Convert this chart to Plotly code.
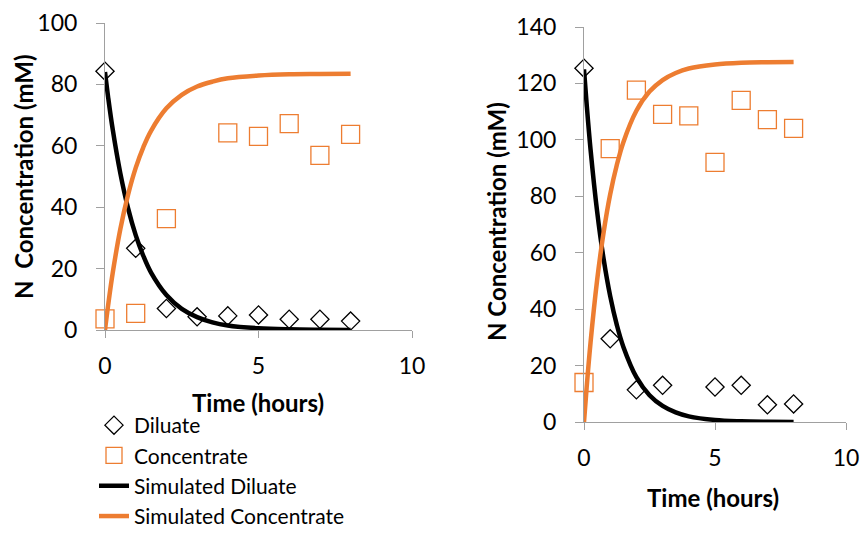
import plotly.graph_objects as go

# ---- Measured data: left run ----
t_meas = [0, 1, 2, 3, 4, 5, 6, 7, 8]
dil_left = [84.3, 26.6, 7.0, 4.3, 4.6, 4.9, 3.5, 3.5, 2.9]
t_conc_left = [0, 1, 2, 4, 5, 6, 7, 8]
conc_left = [3.6, 5.4, 36.3, 64.2, 63.1, 67.2, 56.9, 63.7]

# ---- Measured data: right run ----
t_dil_right = [0, 1, 2, 3, 5, 6, 7, 8]
dil_right = [125.4, 29.5, 11.4, 13.0, 12.4, 13.0, 6.1, 6.4]
conc_right = [14.0, 96.9, 117.6, 109.0, 108.5, 92.0, 114.0, 107.2, 104.1]

# ---- Simulated curves ----
t_sim = [0, 0.1, 0.25, 0.5, 0.75, 1, 1.25, 1.5, 2, 2.5, 3, 3.5, 4, 5, 6, 7, 8]
sim_dil_left = [84.0, 76.0, 65.4, 51.0, 39.7, 30.9, 24.1, 18.7, 11.4, 6.9, 4.2,
                2.5, 1.5, 0.57, 0.21, 0.08, 0.03]
sim_conc_left = [0.0, 7.9, 18.5, 32.9, 44.0, 52.8, 59.6, 64.9, 72.2, 76.6, 79.3,
                 80.9, 82.0, 82.9, 83.3, 83.4, 83.5]
sim_dil_right = [125.0, 112.8, 96.6, 74.7, 57.7, 44.6, 34.5, 26.7, 15.9, 9.5, 5.7,
                 3.4, 2.0, 0.72, 0.26, 0.09, 0.03]
sim_conc_right = [0.0, 12.1, 28.2, 50.2, 67.3, 80.7, 91.0, 99.1, 110.3, 117.1, 121.2,
                  123.7, 125.3, 126.7, 127.3, 127.5, 127.6]

ORANGE = "#ED7D31"
AXIS_GRAY = "#A0A0A0"
FONT = "Lato"
TICK_SIZE = 23
TITLE_SIZE = 24

fig = go.Figure()

def add_run(xa, ya, tdil, dil, tconc, conc, sdil, sconc, show):
    fig.add_trace(go.Scatter(
        x=tdil, y=dil, mode="markers", name="Diluate", xaxis=xa, yaxis=ya,
        marker=dict(symbol="diamond-open", size=14, color="black",
                    line=dict(width=1.3, color="black")),
        cliponaxis=False, showlegend=show, legendrank=1))
    fig.add_trace(go.Scatter(
        x=tconc, y=conc, mode="markers", name="Concentrate", xaxis=xa, yaxis=ya,
        marker=dict(symbol="square-open", size=18, color=ORANGE,
                    line=dict(width=1.3, color=ORANGE)),
        cliponaxis=False, showlegend=show, legendrank=2))
    fig.add_trace(go.Scatter(
        x=t_sim, y=sdil, mode="lines", name="Simulated Diluate", xaxis=xa, yaxis=ya,
        line=dict(color="black", width=4.5, shape="spline"),
        cliponaxis=False, showlegend=show, legendrank=3))
    fig.add_trace(go.Scatter(
        x=t_sim, y=sconc, mode="lines", name="Simulated Concentrate", xaxis=xa, yaxis=ya,
        line=dict(color=ORANGE, width=4.5, shape="spline"),
        cliponaxis=False, showlegend=show, legendrank=4))

add_run("x", "y", t_meas, dil_left, t_conc_left, conc_left,
        sim_dil_left, sim_conc_left, True)
add_run("x2", "y2", t_dil_right, dil_right, t_meas, conc_right,
        sim_dil_right, sim_conc_right, False)

W, H = 862, 533

def xaxis(domain, anchor):
    return dict(domain=domain, anchor=anchor, range=[0, 10], tickvals=[0, 5, 10],
                automargin=False,
                showgrid=False, zeroline=False, showline=True, linecolor=AXIS_GRAY,
                linewidth=1, ticks="outside", ticklen=7, tickcolor=AXIS_GRAY,
                ticklabelstandoff=8,
                tickfont=dict(family=FONT, size=TICK_SIZE, color="black"))

def yaxis(domain, anchor, rmax, step):
    return dict(domain=domain, anchor=anchor, range=[0, rmax],
                tickvals=list(range(0, rmax + 1, step)), automargin=False,
                showgrid=False, zeroline=False, showline=True, linecolor=AXIS_GRAY,
                linewidth=1, ticks="outside", ticklen=8, tickcolor=AXIS_GRAY,
                ticklabelstandoff=14,
                tickfont=dict(family=FONT, size=TICK_SIZE, color="black"))

L_x = [105 / W, 412 / W]
L_y = [(H - 330) / H, (H - 23) / H]
R_x = [584 / W, 846 / W]
R_y = [(H - 422) / H, (H - 27) / H]

title_font = dict(family=FONT, size=TITLE_SIZE, color="black")

fig.update_layout(
    width=W, height=H,
    margin=dict(l=0, r=0, t=0, b=0, autoexpand=False),
    paper_bgcolor="white", plot_bgcolor="white",
    xaxis=xaxis(L_x, "y"),
    yaxis=yaxis(L_y, "x", 100, 20),
    xaxis2=xaxis(R_x, "y2"),
    yaxis2=yaxis(R_y, "x2", 140, 20),
    legend=dict(x=94 / W, y=(H - 405) / H, xanchor="left", yanchor="top",
                bgcolor="rgba(0,0,0,0)", borderwidth=0,
                font=dict(family=FONT, size=21, color="black"),
                traceorder="normal", itemwidth=30),
    annotations=[
        dict(text="<b>N  Concentration (mM)</b>", xref="paper", yref="paper",
             x=23 / W, y=(H - 177) / H, textangle=-90, showarrow=False,
             xanchor="center", yanchor="middle", font=title_font),
        dict(text="<b>Time (hours)</b>", xref="paper", yref="paper",
             x=258 / W, y=(H - 402) / H, showarrow=False,
             xanchor="center", yanchor="middle", font=title_font),
        dict(text="<b>N Concentration (mM)</b>", xref="paper", yref="paper",
             x=496 / W, y=(H - 222) / H, textangle=-90, showarrow=False,
             xanchor="center", yanchor="middle", font=title_font),
        dict(text="<b>Time (hours)</b>", xref="paper", yref="paper",
             x=713 / W, y=(H - 497) / H, showarrow=False,
             xanchor="center", yanchor="middle", font=title_font),
    ],
)

fig.write_html("out.html")
